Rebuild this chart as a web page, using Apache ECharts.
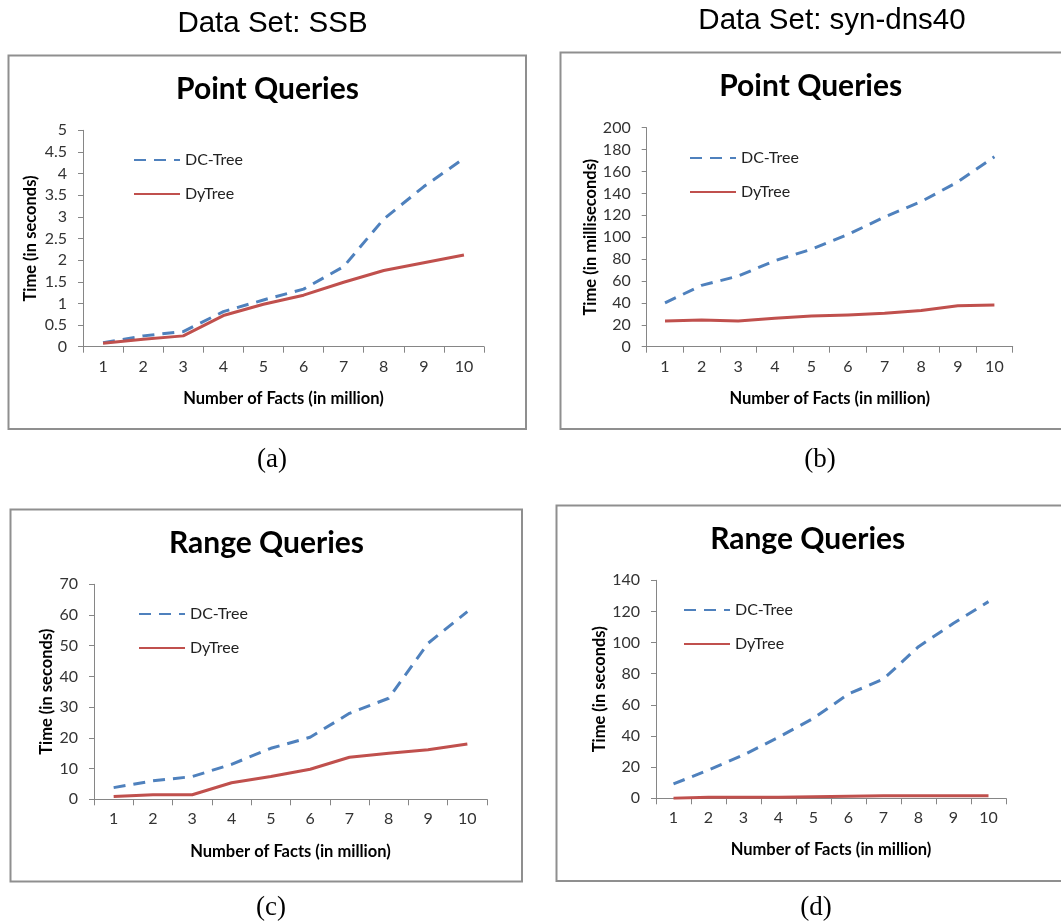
<!DOCTYPE html>
<html>
<head>
<meta charset="utf-8">
<script src="https://cdn.jsdelivr.net/npm/echarts@6/dist/echarts.min.js"></script>
<style>
html,body{margin:0;padding:0;background:#fff;}
#chart{width:1061px;height:924px;}
</style>
</head>
<body>
<div id="chart"></div>
<script>
// ---- data ----
const categories = ['1','2','3','4','5','6','7','8','9','10'];
const seriesNames = ['DC-Tree', 'DyTree'];
const ssbPointDC = [0.09, 0.25, 0.35, 0.81, 1.08, 1.33, 1.85, 2.95, 3.70, 4.35];
const ssbPointDy = [0.08, 0.17, 0.25, 0.72, 0.98, 1.19, 1.49, 1.76, 1.94, 2.12];
const dnsPointDC = [40, 56, 64.5, 78.5, 89, 102.5, 118.5, 132.5, 150.5, 173.5];
const dnsPointDy = [23.5, 24.4, 23.5, 26, 28, 29, 30.5, 33, 37.4, 38];
const ssbRangeDC = [3.8, 6.0, 7.4, 11.4, 16.6, 20.2, 28, 32.9, 50.8, 61.1];
const ssbRangeDy = [0.9, 1.5, 1.5, 5.4, 7.4, 9.8, 13.7, 15, 16.1, 18];
const dnsRangeDC = [9.2, 18.2, 27.8, 39.2, 51.4, 67, 76.6, 97.4, 112.4, 126.3];
const dnsRangeDy = [0, 0.6, 0.6, 0.6, 1.0, 1.3, 1.7, 1.7, 1.7, 1.7];
const yMax = [5, 200, 70, 140];
const yInterval = [0.5, 20, 10, 20];
const panelTitles = ['Point Queries', 'Point Queries', 'Range Queries', 'Range Queries'];
const yNames = ['Time (in seconds)', 'Time (in milliseconds)', 'Time (in seconds)', 'Time (in seconds)'];
const xName = 'Number of Facts (in million)';
const dataSetTitles = ['Data Set: SSB', 'Data Set: syn-dns40'];
const captions = ['(a)', '(b)', '(c)', '(d)'];

// ---- layout ----
const grids = [
  {left: 83, top: 130.3, width: 401, height: 216.4},
  {left: 646.7, top: 127.7, width: 366, height: 219},
  {left: 94, top: 584.3, width: 393, height: 215},
  {left: 656, top: 580.3, width: 350, height: 218}
];
const yNameGaps = [44, 48, 39, 48];
const xNameGaps = [43, 43, 44, 43];
const legendPos = [
  {left: 133, top: 152},
  {left: 689, top: 150},
  {left: 138, top: 606},
  {left: 683, top: 602}
];
const titlePos = [[267.5, 89], [810.7, 86.5], [266.5, 543], [807.7, 539]];
const boxes = [
  {x: 8.5, y: 55.5, w: 517.5, h: 373.5},
  {x: 560.5, y: 52.5, w: 520, h: 376.5},
  {x: 10.5, y: 509.5, w: 511.5, h: 372},
  {x: 556.5, y: 505.5, w: 520, h: 375.5}
];
const captionPos = [[272, 460], [820, 460], [271, 908], [816, 908]];
const headerPos = [[272.5, 24], [832, 21]];

const BLUE = '#4F81BD', RED = '#C0504D';
const AXIS = '#868686';
const FONT = 'Lato';

const dcData = [ssbPointDC, dnsPointDC, ssbRangeDC, dnsRangeDC];
const dyData = [ssbPointDy, dnsPointDy, ssbRangeDy, dnsRangeDy];

const option = {
  animation: false,
  backgroundColor: '#fff',
  grid: grids.map(g => Object.assign({containLabel: false}, g)),
  xAxis: grids.map((g, i) => ({
    type: 'category', gridIndex: i, data: categories, boundaryGap: true,
    name: xName, nameLocation: 'middle', nameGap: xNameGaps[i],
    nameTextStyle: {fontFamily: FONT, fontWeight: 'bold', fontSize: 16.5, color: '#000'},
    axisLine: {lineStyle: {color: AXIS, width: 1}},
    axisTick: {show: true, length: 6, lineStyle: {color: AXIS}},
    axisLabel: {fontFamily: FONT, fontSize: 16, color: '#333', margin: 12},
    splitLine: {show: false}
  })),
  yAxis: grids.map((g, i) => ({
    type: 'value', gridIndex: i, min: 0, max: yMax[i], interval: yInterval[i],
    name: yNames[i], nameLocation: 'middle', nameGap: yNameGaps[i],
    nameTextStyle: {fontFamily: FONT, fontWeight: 'bold', fontSize: 16.5, color: '#000'},
    axisLine: {show: true, lineStyle: {color: AXIS, width: 1}},
    axisTick: {show: true, length: 5, lineStyle: {color: AXIS}},
    axisLabel: {fontFamily: FONT, fontSize: 16, color: '#333', margin: 16},
    splitLine: {show: false}
  })),
  legend: legendPos.map((p, i) => ({
    left: p.left, top: p.top, orient: 'vertical', padding: 0,
    itemWidth: 46, itemHeight: 14, itemGap: 18,
    data: seriesNames, selectedMode: false,
    itemStyle: {opacity: 0},
    textStyle: {fontFamily: FONT, fontSize: 16, color: '#222', padding: [0, 0, 0, 0]}
  })),
  series: [].concat(...grids.map((g, i) => ([
    {
      name: seriesNames[0], type: 'line', xAxisIndex: i, yAxisIndex: i,
      data: dcData[i], symbol: 'none', smooth: false,
      lineStyle: {color: BLUE, width: 3, type: [12, 8], cap: 'butt'},
      itemStyle: {color: BLUE}
    },
    {
      name: seriesNames[1], type: 'line', xAxisIndex: i, yAxisIndex: i,
      data: dyData[i], symbol: 'none', smooth: false,
      lineStyle: {color: RED, width: 3, type: 'solid', join: 'round'},
      itemStyle: {color: RED}
    }
  ]))),
  graphic: [].concat(
    boxes.map(b => ({
      type: 'rect', z: -10, silent: true,
      shape: {x: b.x, y: b.y, width: b.w, height: b.h},
      style: {fill: 'rgba(0,0,0,0)', stroke: '#8f8f8f', lineWidth: 2}
    })),
    panelTitles.map((t, i) => ({
      type: 'text', silent: true, x: titlePos[i][0], y: titlePos[i][1],
      style: {text: t, fontFamily: FONT, fontWeight: 'bold', fontSize: 30, fill: '#000',
              align: 'center', verticalAlign: 'middle'}
    })),
    dataSetTitles.map((t, i) => ({
      type: 'text', silent: true, x: headerPos[i][0], y: headerPos[i][1],
      style: {text: t, fontFamily: 'Liberation Sans', fontSize: 29.5, fill: '#000',
              align: 'center', verticalAlign: 'middle'}
    })),
    captions.map((t, i) => ({
      type: 'text', silent: true, x: captionPos[i][0], y: captionPos[i][1],
      style: {text: t, fontFamily: 'Liberation Serif', fontSize: 27, fill: '#000',
              align: 'center', verticalAlign: 'middle'}
    }))
  )
};

const chart = echarts.init(document.getElementById('chart'), null, {renderer: 'canvas'});
chart.setOption(option);
</script>
</body>
</html>
